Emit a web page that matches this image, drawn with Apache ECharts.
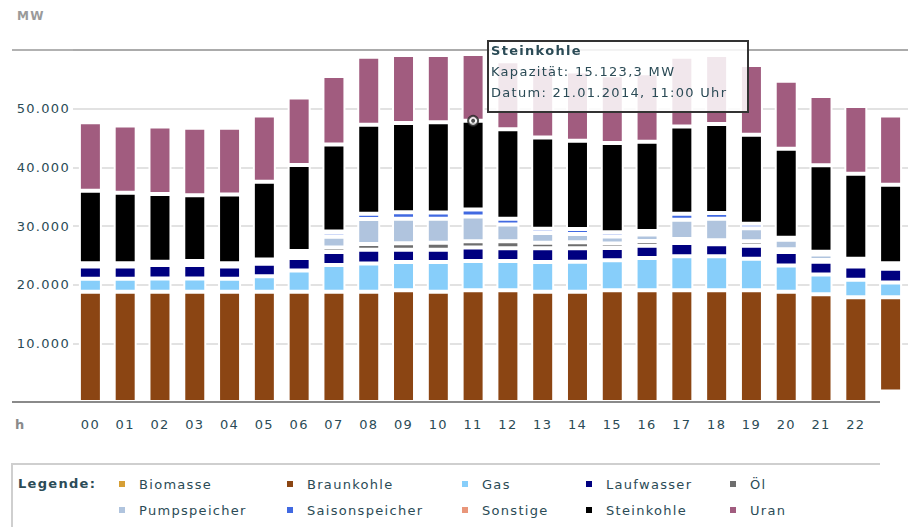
<!DOCTYPE html>
<html>
<head>
<meta charset="utf-8">
<script src="https://cdn.jsdelivr.net/npm/echarts@6/dist/echarts.min.js"></script>
<style>
html, body { margin: 0; padding: 0; background: #fff; }
#main { width: 908px; height: 527px; }
#main svg text { letter-spacing: 1.3px; }
</style>
</head>
<body>
<div id="main"></div>
<script>
// Stunden 00..23
var hours = ['00', '01', '02', '03', '04', '05', '06', '07', '08', '09', '10', '11',
		'12', '13', '14', '15', '16', '17', '18', '19', '20', '21', '22', '23'];
var datum = '21.01.2014';

// Kapazitaet je Energietraeger in MW (von unten nach oben gestapelt)
var braunkohle = [ 18800, 18800, 18800, 18800, 18800, 18800, 18800, 18800, 18800, 19050, 18800, 19050,
		19050, 18800, 18800, 19050, 19050, 19050, 19050, 19050, 18800, 18350, 17850, 17850 ];
var gas = [ 2200, 2200, 2250, 2250, 2200, 2650, 3600, 4550, 4800, 4800, 5050, 5000,
		5000, 5050, 5100, 5100, 5500, 5800, 5800, 5350, 4450, 3400, 3000, 2500 ];
var laufwasser = [ 2100, 2100, 2300, 2300, 2100, 2100, 2150, 2200, 2350, 2100, 2100, 2300,
		2150, 2350, 2300, 2100, 2100, 2250, 2050, 2250, 2300, 2150, 2250, 2350 ];
var biomasse = [ 0, 0, 0, 0, 0, 0, 0, 0, 0, 0, 0, 0,
		0, 0, 0, 0, 0, 0, 0, 0, 0, 0, 0, 0 ];
var oel = [ 300, 300, 300, 230, 300, 450, 450, 800, 1000, 1100, 1200, 1050,
		1200, 950, 1050, 750, 800, 700, 650, 750, 500, 300, 250, 200 ];
var pumpspeicher = [ 250, 250, 240, 0, 250, 300, 550, 1800, 4250, 4200, 4100, 4200,
		2850, 1650, 1400, 1200, 1100, 3250, 3700, 2200, 1600, 950, 600, 450 ];
var saisonspeicher = [ 0, 0, 0, 0, 0, 0, 200, 750, 900, 1100, 1050, 1200,
		1000, 750, 850, 750, 600, 1050, 950, 800, 350, 450, 450, 300 ];
var sonstige = [ 0, 0, 0, 450, 0, 0, 0, 150, 0, 0, 0, 0,
		0, 0, 0, 0, 0, 0, 0, 0, 0, 0, 0, 0 ];
var steinkohle = [ 12350, 12000, 11560, 11200, 11700, 13250, 14650, 14850, 15150, 15200, 15400, 15123.3,
		15250, 15550, 15050, 15200, 15200, 14850, 15200, 15150, 15150, 14750, 14500, 13400 ];
var uran = [ 11700, 11500, 11500, 11500, 11400, 11300, 11500, 11650, 11600, 11600, 11450, 11400,
		11600, 12050, 11800, 11550, 11700, 11900, 11750, 11900, 11600, 11800, 11550, 11800 ];

var yTicks = [ 0, 10000, 20000, 30000, 40000, 50000, 60000 ];
var tipIndex = 11; // angezeigter Tooltip: Steinkohle, 11:00 Uhr

var stack = [
	{ name : 'Braunkohle', data : braunkohle, color : '#8b4513' },
	{ name : 'Gas', data : gas, color : '#87cefa' },
	{ name : 'Laufwasser', data : laufwasser, color : '#000080' },
	{ name : 'Biomasse', data : biomasse, color : '#d69f35' },
	{ name : 'Öl', data : oel, color : '#6e6e6e' },
	{ name : 'Pumpspeicher', data : pumpspeicher, color : '#b0c4de' },
	{ name : 'Saisonspeicher', data : saisonspeicher, color : '#4169e1' },
	{ name : 'Sonstige', data : sonstige, color : '#e9967a' },
	{ name : 'Steinkohle', data : steinkohle, color : '#000000' },
	{ name : 'Uran', data : uran, color : '#a15c7f' }
];

var textColor = '#2b4b56';
var font = 'DejaVu Sans';
var GRID_LEFT = 73, GRID_TOP = 50, GRID_H = 352;

function tsd(s) {
	return s.replace(/\B(?=(\d{3})+(?!\d))/g, '.');
}
function de(v) {
	var p = v.toFixed(1).split('.');
	return tsd(p[0]) + ',' + p[1];
}

var series = stack.map(function(s) {
	return {
		name : s.name,
		type : 'bar',
		stack : 'kap',
		barWidth : 23,
		data : s.data.map(function(v) { return v === 0 ? null : v; }),
		itemStyle : { color : s.color, borderColor : '#fff', borderWidth : 2 },
		emphasis : { disabled : true }
	};
});

// Markierung auf der Oberkante des Steinkohle-Segments
var tipSeries = 8, tipTop = 0;
for (var i = 0; i <= tipSeries; i++) tipTop += stack[i].data[tipIndex];
series.push({
	type : 'scatter',
	silent : true,
	z : 10,
	data : [
		{ value : [ tipIndex, tipTop ], symbolSize : 10, itemStyle : { color : '#fff', borderColor : '#222', borderWidth : 2 } },
		{ value : [ tipIndex, tipTop ], symbolSize : 4, itemStyle : { color : '#222' } }
	]
});

var legendCols = [
	[ 117, [ 'Biomasse', 'Pumpspeicher' ] ],
	[ 285, [ 'Braunkohle', 'Saisonspeicher' ] ],
	[ 460, [ 'Gas', 'Sonstige' ] ],
	[ 584, [ 'Laufwasser', 'Steinkohle' ] ],
	[ 728, [ 'Öl', 'Uran' ] ]
];

var myChart = echarts.init(document.getElementById('main'), null, { renderer : 'svg' });
var option = {
	animation : false,
	textStyle : { fontFamily : font },
	grid : { left : GRID_LEFT, top : GRID_TOP, width : 24 * 35.33, height : GRID_H },
	legend : legendCols.map(function(c) {
		return {
			orient : 'vertical',
			left : c[0],
			top : 476,
			padding : 0,
			itemWidth : 8,
			itemHeight : 8,
			itemGap : 10,
			icon : 'rect',
			selectedMode : false,
			textStyle : { color : textColor, fontSize : 13, fontFamily : font, lineHeight : 16, padding : [ 0, 0, 0, 8 ] },
			data : c[1]
		};
	}),
	tooltip : {
		trigger : 'item',
		triggerOn : 'none',
		alwaysShowContent : true,
		position : [ 487, 40 ],
		transitionDuration : 0,
		backgroundColor : 'rgba(255,255,255,0.85)',
		borderColor : '#333',
		borderWidth : 2,
		borderRadius : 0,
		padding : [ 0, 20, 8, 2 ],
		textStyle : { color : textColor, fontSize : 13, fontFamily : font },
		extraCssText : 'box-shadow:none;border-radius:0;letter-spacing:1.3px;line-height:21px;',
		formatter : function(p) {
			return '<div style="margin-top:-2px"><b>' + p.seriesName + '</b><br>Kapazität: ' + de(p.value)
				+ ' MW<br>Datum: ' + datum + ', ' + hours[p.dataIndex] + ':00 Uhr</div>';
		}
	},
	xAxis : {
		type : 'category',
		data : hours,
		axisLine : { show : false },
		axisTick : { show : false },
		axisLabel : { color : textColor, fontSize : 13, margin : 16 }
	},
	yAxis : {
		type : 'value',
		min : yTicks[0],
		max : yTicks[yTicks.length - 1],
		interval : yTicks[1] - yTicks[0],
		axisLine : { show : false },
		axisTick : { show : false },
		axisLabel : {
			color : textColor,
			fontSize : 13,
			margin : 3,
			formatter : function(v) {
				return (v === yTicks[0] || v === yTicks[yTicks.length - 1]) ? '' : tsd(String(v));
			}
		},
		splitLine : { lineStyle : { color : '#e2e2e2', width : 2 } }
	},
	graphic : [
		{ type : 'line', z : 50, shape : { x1 : 12, y1 : GRID_TOP, x2 : 908, y2 : GRID_TOP }, style : { stroke : '#999', lineWidth : 1.5 } },
		{ type : 'rect', z : 60, shape : { x : 880, y : 389.5, width : 30, height : 70 }, style : { fill : '#fff' } },
		{ type : 'line', z : 50, shape : { x1 : 12, y1 : GRID_TOP + GRID_H, x2 : 880, y2 : GRID_TOP + GRID_H }, style : { stroke : '#8a8a8a', lineWidth : 2 } },
		{ type : 'text', z : 50, left : 17, top : 10, style : { text : 'MW', fill : '#9a9a9a', font : 'bold 12px "DejaVu Sans"' } },
		{ type : 'text', z : 50, left : 15, top : 418, style : { text : 'h', fill : '#8a8a8a', font : 'bold 13px "DejaVu Sans"' } },
		{ type : 'polyline', z : 50, shape : { points : [ [ 12, 527 ], [ 12, 464 ], [ 880, 464 ] ] }, style : { stroke : '#cfcfcf', lineWidth : 2, fill : null } },
		{ type : 'text', z : 50, left : 18, top : 477, style : { text : 'Legende:', fill : textColor, font : 'bold 13px "DejaVu Sans"' } }
	],
	series : series
};
myChart.setOption(option);
myChart.dispatchAction({ type : 'showTip', seriesIndex : tipSeries, dataIndex : tipIndex });
</script>
</body>
</html>
